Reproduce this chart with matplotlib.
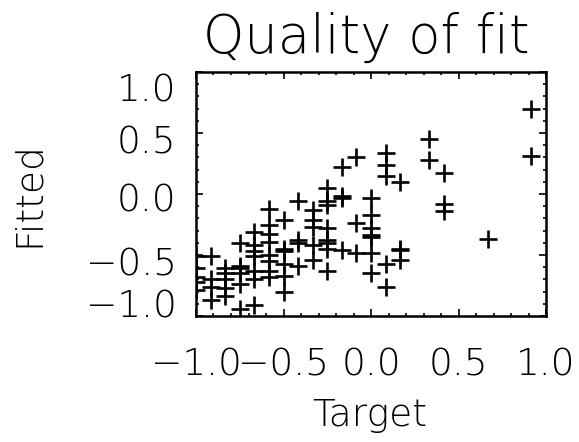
import matplotlib
matplotlib.use("Agg")
import matplotlib.pyplot as plt
from matplotlib.ticker import MultipleLocator
from matplotlib.transforms import ScaledTranslation

# Target values come in twelfths; fitted values read column by column
target = (
    [-1.0] * 5 + [-0.917] * 4 + [-0.833] * 5 + [-0.75] * 6 + [-0.667] * 7
    + [-0.583] * 8 + [-0.5] * 6 + [-0.417] * 4 + [-0.333] * 5 + [-0.25] * 8
    + [-0.167] * 4 + [-0.083] * 3 + [0.0] * 7 + [0.083] * 5 + [0.167] * 4
    + [0.333] * 2 + [0.417] * 3 + [0.667] * 1 + [0.917] * 2
)
fitted = [
    -0.51, -0.61, -0.68, -0.72, -0.79,
    -0.51, -0.70, -0.76, -0.87,
    -0.61, -0.65, -0.70, -0.77, -0.84,
    -0.40, -0.59, -0.61, -0.65, -0.74, -0.94,
    -0.31, -0.42, -0.47, -0.51, -0.63, -0.70, -0.91,
    -0.12, -0.25, -0.33, -0.39, -0.50, -0.55, -0.63, -0.68,
    -0.21, -0.45, -0.47, -0.57, -0.67, -0.80,
    -0.06, -0.38, -0.40, -0.59,
    -0.13, -0.21, -0.27, -0.42, -0.54,
    0.05, -0.06, -0.09, -0.28, -0.38, -0.40, -0.45, -0.63,
    0.22, -0.02, -0.03, -0.46,
    0.30, -0.24, -0.48,
    -0.03, -0.17, -0.28, -0.34, -0.35, -0.48, -0.65,
    0.34, 0.24, 0.15, -0.57, -0.76,
    0.10, -0.45, -0.46, -0.54,
    0.45, 0.28,
    0.17, -0.08, -0.14,
    -0.37,
    0.70, 0.31,
]
ticks = [-1.0, -0.5, 0.0, 0.5, 1.0]
tick_labels = ["\u22121.0", "\u22120.5", "0.0", "0.5", "1.0"]

plt.rcParams["font.family"] = "DejaVu Sans"
plt.rcParams["font.weight"] = "light"

fig = plt.figure(figsize=(5.79, 4.42), dpi=100)
ax = fig.add_axes([196 / 579, 126 / 442, 350 / 579, 244 / 442])

ax.plot(target, fitted, linestyle="none", marker="+", markersize=13,
        markeredgewidth=1.9, color="black")

ax.set_xlim(-1, 1)
ax.set_ylim(-1, 1)
ax.set_xticks(ticks, tick_labels)
ax.set_yticks(ticks, tick_labels)
ax.xaxis.set_minor_locator(MultipleLocator(0.1))
ax.yaxis.set_minor_locator(MultipleLocator(0.1))
ax.tick_params(which="both", direction="in", top=True, right=True,
               width=1.2, labelsize=27)
ax.tick_params(which="major", length=5)
ax.tick_params(which="minor", length=2.5)
ax.tick_params(axis="x", pad=23)
ax.tick_params(axis="y", pad=14)
for side in ax.spines.values():
    side.set_linewidth(1.8)

# IDL style: y labels nudged inside the axis range
shifts = [-13, 7, 3, 6, 16]
for lab, dy in zip(ax.get_yticklabels(), shifts):
    lab.set_transform(lab.get_transform()
                      + ScaledTranslation(0, -dy / 100, fig.dpi_scale_trans))

ax.set_title("Quality of fit", fontsize=38, fontweight="light", pad=14, x=0.486)
ax.set_xlabel("Target", fontsize=27, fontweight="light")
ax.xaxis.set_label_coords(0.497, -0.335)
ax.set_ylabel("Fitted", fontsize=27, fontweight="light")
ax.yaxis.set_label_coords(-0.43, 0.5)

fig.savefig("out.png", dpi=100)
